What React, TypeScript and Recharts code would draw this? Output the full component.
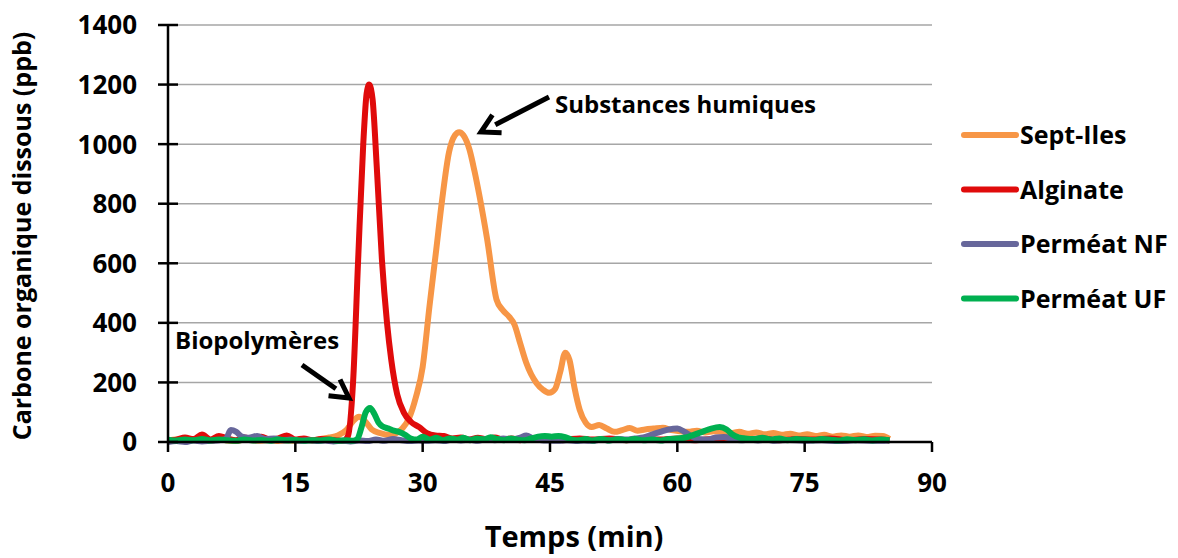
import { LineChart, Line, XAxis, YAxis, CartesianGrid } from 'recharts'

// temps (min) et carbone organique dissous (ppb)
const sepTimes = [0, 1, 2, 3, 4, 5, 6, 7, 8, 9, 10, 11, 12, 13, 14, 15, 16, 17, 18, 19, 20, 21, 21.8, 22.5, 23.2, 24, 25, 26, 26.8, 27.6, 28.4, 29.2, 30, 30.8, 31.6, 32.3, 33.1, 33.8, 34.3, 34.8, 35.5, 36.1, 36.7, 37.6, 38.7, 39.4, 40.2, 40.8, 41.5, 42.2, 43.4, 44.2, 44.9, 45.6, 46.2, 46.8, 47.3, 47.9, 48.5, 49.2, 49.9, 50.8, 51.7, 52.6, 53.5, 54.4, 55.3, 56.2, 57.2, 58.3, 59.3, 60.3, 61.3, 62.3, 63.3, 64.3, 65.3, 66.3, 67.3, 68.3, 69.3, 70.3, 71.3, 72.3, 73.3, 74.3, 75.3, 76.3, 77.3, 78.3, 79.3, 80.3, 81.3, 82.3, 83.3, 84.2, 85]
const sepValues = [5, 8, 3, 10, 6, 4, 9, 5, 3, 8, 6, 4, 7, 3, 6, 4, 8, 5, 10, 15, 22, 40, 70, 85, 70, 42, 30, 24, 28, 45, 80, 150, 252, 455, 646, 815, 972, 1030, 1040, 1030, 983, 910, 825, 680, 478, 444, 420, 395, 330, 266, 198, 175, 165, 178, 235, 300, 275, 180, 108, 65, 50, 57, 45, 34, 40, 47, 38, 42, 45, 48, 40, 36, 34, 38, 32, 36, 34, 30, 34, 28, 32, 26, 30, 24, 28, 22, 26, 20, 24, 18, 22, 18, 22, 17, 21, 20, 10]

const algTimes = [0, 1, 2, 3, 4, 5, 6, 7, 8, 9, 10, 11, 12, 13, 14, 15, 16, 17, 18, 19, 20, 20.6, 21.2, 21.8, 22.4, 23, 23.4, 23.7, 24.1, 24.6, 25.2, 25.8, 26.3, 27, 27.8, 28.6, 29.6, 30.5, 31.5, 32.5, 33.5, 34.5, 35.5, 36.5, 37.5, 38.5, 39.5, 40.5, 41.5, 42.5, 43.5, 44.5, 45.5, 46.5, 47.5, 48.5, 50, 52, 54, 56, 58, 60, 62, 64, 66, 68, 70, 72, 74, 76, 78, 80, 82, 84, 85]
const algValues = [5, 8, 15, 10, 25, 8, 20, 12, 6, 15, 10, 18, 8, 12, 22, 8, 12, 6, 10, 8, 5, 3, 20, 200, 612, 1000, 1170, 1200, 1150, 920, 612, 400, 276, 160, 98, 68, 50, 30, 22, 20, 12, 15, 8, 14, 10, 15, 8, 12, 6, 14, 10, 8, 14, 6, 10, 12, 8, 12, 6, 10, 8, 12, 6, 10, 14, 8, 12, 6, 10, 8, 12, 6, 10, 8, 5]

const nfTimes = [0, 1, 2, 3, 4, 5, 6, 6.8, 7.4, 8, 8.7, 9.5, 10.5, 11.5, 12.5, 13.5, 14.5, 15.5, 16.5, 17.5, 18.5, 19.5, 20.5, 21.5, 22.5, 23.5, 24.5, 25.5, 26.5, 27.5, 28.5, 29.5, 30.5, 31.5, 32.5, 33.5, 34.5, 35.5, 36.5, 37.5, 38.5, 39.5, 40.5, 41.5, 42.2, 43, 44, 45, 46, 47, 48, 49, 50, 51, 52, 53, 54, 55, 56, 57, 58, 59, 60, 60.8, 61.5, 62.5, 63.5, 64.5, 65.5, 66.5, 67.5, 68.5, 69.5, 70.5, 71.5, 73, 75, 77, 79, 81, 83, 85]
const nfValues = [0, 3, 0, 5, 2, 4, 6, 10, 40, 35, 18, 14, 20, 10, 12, 6, 8, 4, 6, 3, 5, 2, 4, 2, 5, 3, 8, 4, 10, 6, 3, 5, 4, 6, 3, 8, 5, 8, 4, 10, 6, 12, 8, 15, 22, 12, 6, 5, 4, 6, 3, 5, 4, 8, 6, 10, 8, 12, 15, 25, 34, 42, 45, 35, 22, 10, 8, 15, 17, 10, 6, 8, 5, 8, 4, 7, 4, 6, 3, 6, 4, 5]

const ufTimes = [0, 1, 2, 3, 4, 5, 6, 7, 8, 9, 10, 11, 12, 13, 14, 15, 16, 17, 18, 19, 20, 21, 21.8, 22.3, 22.8, 23.3, 23.8, 24.3, 24.8, 25.3, 26, 26.6, 27.2, 27.9, 28.6, 29.3, 30, 30.8, 31.6, 32.4, 33.2, 34, 34.8, 35.6, 36.4, 37.2, 38, 38.8, 39.6, 40.4, 41.2, 42, 42.8, 43.6, 44.4, 45.2, 46, 46.8, 47.6, 48.4, 49.2, 50, 51, 52, 53, 54, 55, 56, 57, 58, 59, 60, 61, 62, 63, 64, 65, 65.8, 66.5, 67.3, 68, 69, 70, 71, 72, 73, 74, 75, 76, 77, 78, 79, 80, 81, 82, 83, 84, 85]
const ufValues = [8, 5, 8, 6, 10, 5, 8, 6, 4, 8, 5, 7, 4, 8, 5, 7, 4, 6, 5, 8, 4, 6, 4, 10, 50, 100, 114, 95, 65, 52, 45, 38, 34, 25, 12, 8, 18, 8, 14, 6, 12, 8, 14, 6, 12, 8, 16, 10, 6, 12, 8, 6, 12, 18, 20, 18, 20, 16, 8, 6, 10, 5, 10, 5, 9, 6, 10, 6, 8, 5, 10, 12, 15, 25, 35, 45, 50, 42, 25, 15, 12, 10, 14, 8, 12, 6, 10, 8, 6, 10, 8, 5, 9, 6, 9, 5, 8, 6]

const seriesNames = ['Sept-Iles', 'Alginate', 'Perméat NF', 'Perméat UF']
const seriesColors = ['#F79646', '#E00B0B', '#67679B', '#00B050']
const xTicks = [0, 15, 30, 45, 60, 75, 90]
const yTicks = [0, 200, 400, 600, 800, 1000, 1200, 1400]

const toPoints = (ts: number[], vs: number[]) => ts.map((t, i) => ({ t, v: vs[i] }))

const series = [
	toPoints(sepTimes, sepValues),
	toPoints(algTimes, algValues),
	toPoints(nfTimes, nfValues),
	toPoints(ufTimes, ufValues),
]

const FONT = "'Open Sans', sans-serif"

const YTick = (props: any) => {
	const { x, y, payload } = props
	return (
		<g>
			<line x1={x + 21} x2={x + 41} y1={y} y2={y} stroke="#000" strokeWidth={2.5} />
			<text x={x} y={y} dy="0.36em" textAnchor="end" fontSize={26} fontWeight={700} fontFamily={FONT} fill="#000">
				{payload.value}
			</text>
		</g>
	)
}

const XTick = (props: any) => {
	const { x, y, payload } = props
	return (
		<g>
			<line x1={x} x2={x} y1={y} y2={y + 10} stroke="#000" strokeWidth={2.5} />
			<text x={x} y={y + 41} dy="0.36em" textAnchor="middle" fontSize={26} fontWeight={700} fontFamily={FONT} fill="#000">
				{payload.value}
			</text>
		</g>
	)
}

// flèche d'annotation
const Arrow = ({ from, to }: { from: number[]; to: number[] }) => {
	const dx = to[0] - from[0]
	const dy = to[1] - from[1]
	const len = Math.sqrt(dx * dx + dy * dy)
	const ux = dx / len
	const uy = dy / len
	const hl = 18
	const hw = 10
	const bx = to[0] - ux * hl
	const by = to[1] - uy * hl
	return (
		<g>
			<line x1={from[0]} y1={from[1]} x2={bx + ux * 2} y2={by + uy * 2} stroke="#000" strokeWidth={5} />
			<polyline
				points={`${bx - uy * hw},${by + ux * hw} ${to[0]},${to[1]} ${bx + uy * hw},${by - ux * hw}`}
				fill="none"
				stroke="#000"
				strokeWidth={5}
				strokeLinejoin="miter"
			/>
		</g>
	)
}

const App = () => {
	return (
		<div style={{ position: 'absolute', left: 0, top: 0, width: 1178, height: 558, background: '#fff' }}>
			<LineChart width={1178} height={558} margin={{ top: 25, right: 246, bottom: 56, left: 68 }}>
				<CartesianGrid vertical={false} stroke="#A6A6A6" strokeWidth={1.5} />
				<XAxis
					dataKey="t"
					type="number"
					domain={[0, 90]}
					ticks={xTicks}
					height={60}
					tickSize={0}
					tickMargin={0}
					tick={<XTick />}
					tickLine={false}
					axisLine={{ stroke: '#000', strokeWidth: 2.5 }}
					allowDuplicatedCategory={false}
				/>
				<YAxis
					type="number"
					domain={[0, 1400]}
					ticks={yTicks}
					width={100}
					tickSize={0}
					tickMargin={31}
					tick={<YTick />}
					tickLine={false}
					axisLine={{ stroke: '#000', strokeWidth: 2.5 }}
				/>
				{series.map((d, i) => (
					<Line
						key={seriesNames[i]}
						data={d}
						dataKey="v"
						name={seriesNames[i]}
						type="monotone"
						stroke={seriesColors[i]}
						strokeWidth={6}
						strokeLinejoin="round"
						dot={false}
						activeDot={false}
						isAnimationActive={false}
					/>
				))}
			</LineChart>
			<svg
				width={1178}
				height={558}
				style={{ position: 'absolute', left: 0, top: 0, pointerEvents: 'none' }}
				fontFamily={FONT}
				fontWeight={700}
			>
				<text x={22} y={236} transform="rotate(-90 22 236)" textAnchor="middle" dy="0.36em" fontSize={25}>
					Carbone organique dissous (ppb)
				</text>
				<text x={574} y={537} textAnchor="middle" dy="0.36em" fontSize={29}>
					Temps (min)
				</text>
				<text x={555} y={104} dy="0.36em" fontSize={24}>
					Substances humiques
				</text>
				<Arrow from={[549, 97]} to={[481, 132]} />
				<text x={175} y={340} dy="0.36em" fontSize={24}>
					Biopolymères
				</text>
				<Arrow from={[302, 365]} to={[349, 398]} />
				{seriesNames.map((n, i) => {
					const y = 135 + i * 54.5
					return (
						<g key={n}>
							<line x1={964} x2={1016} y1={y} y2={y} stroke={seriesColors[i]} strokeWidth={6} strokeLinecap="round" />
							<text x={1020} y={y} dy="0.36em" fontSize={25}>
								{n}
							</text>
						</g>
					)
				})}
			</svg>
		</div>
	)
}

export default App
